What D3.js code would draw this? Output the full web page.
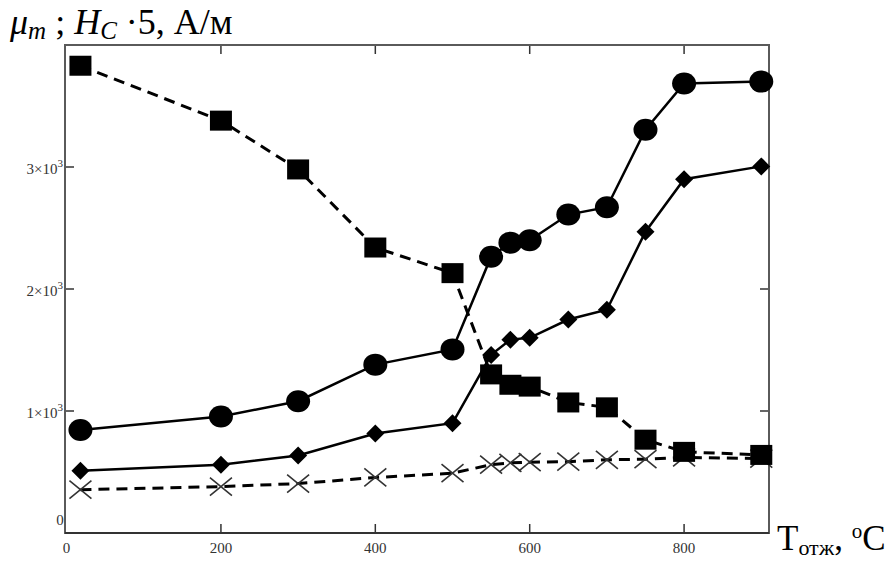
<!DOCTYPE html>
<html>
<head>
<meta charset="utf-8">
<script src="https://cdn.jsdelivr.net/npm/d3@7"></script>
<style>
  body { margin: 0; background: #fff; }
  svg { font-family: "Liberation Serif", "DejaVu Serif", serif; }
</style>
</head>
<body>
<svg id="chart" width="892" height="563"></svg>
<script>
// annealing temperature, C
var temps = [18, 200, 300, 400, 500, 550, 575, 600, 650, 700, 750, 800, 900]

var squares = [3830, 3380, 2980, 2340, 2130, 1300, 1215, 1200, 1070, 1030, 765, 665, 640]
var circles = [845, 955, 1080, 1380, 1505, 2265, 2380, 2400, 2610, 2670, 3305, 3685, 3700]
var diamonds = [510, 560, 635, 815, 900, 1460, 1585, 1600, 1750, 1830, 2470, 2900, 3005]
var crosses = [355, 380, 405, 455, 490, 560, 575, 580, 585, 600, 605, 620, 610]

var xTicks = [0, 200, 400, 600, 800]
var yTicks = [1000, 2000, 3000]

var svg = d3.select("#chart")
var pLeft = 65, pRight = 769, pTop = 45, pBottom = 533

var x = d3.scaleLinear().domain([-2, 910]).range([pLeft, pRight])
var y = d3.scaleLinear().domain([0, 4000]).range([pBottom, pTop])

var frameColor = "#5a5a5a"

// ticks inside on every side
var ticks = svg.append("g").attr("stroke", "#333").attr("stroke-width", 1.5)
xTicks.slice(1).forEach(function (t) {
  ticks.append("line").attr("x1", x(t)).attr("x2", x(t)).attr("y1", pBottom).attr("y2", pBottom - 9)
  ticks.append("line").attr("x1", x(t)).attr("x2", x(t)).attr("y1", pTop).attr("y2", pTop + 9)
})
yTicks.forEach(function (t) {
  ticks.append("line").attr("x1", pLeft).attr("x2", pLeft + 9).attr("y1", y(t)).attr("y2", y(t))
  ticks.append("line").attr("x1", pRight).attr("x2", pRight - 9).attr("y1", y(t)).attr("y2", y(t))
})

svg.append("rect")
  .attr("x", pLeft).attr("y", pTop)
  .attr("width", pRight - pLeft).attr("height", pBottom - pTop)
  .attr("fill", "none")
  .attr("stroke", frameColor)
  .attr("stroke-width", 2)

svg.append("line")
  .attr("x1", pLeft).attr("x2", pRight)
  .attr("y1", pBottom).attr("y2", pBottom)
  .attr("stroke", "#333").attr("stroke-width", 2)

// tick labels
svg.selectAll(".xlab")
  .data(xTicks)
  .enter()
  .append("text")
  .attr("class", "xlab")
  .attr("x", function (d) { return x(d) })
  .attr("y", 553)
  .attr("text-anchor", "middle")
  .attr("font-size", 15)
  .attr("fill", "#333")
  .text(function (d) { return d })

var ylab = svg.selectAll(".ylab")
  .data(yTicks)
  .enter()
  .append("text")
  .attr("class", "ylab")
  .attr("x", pLeft - 2)
  .attr("y", function (d) { return y(d) + 7 })
  .attr("text-anchor", "end")
  .attr("font-size", 15)
  .attr("fill", "#333")
ylab.append("tspan").text(function (d) { return (d / 1000) + "\u00d710" })
ylab.append("tspan").attr("font-size", 11).attr("dy", -7).text("3")

svg.append("text")
  .attr("x", 60).attr("y", 525)
  .attr("text-anchor", "middle")
  .attr("font-size", 15)
  .attr("fill", "#333")
  .text("0")

// lines
function line(vals) {
  return d3.line()
    .x(function (d, i) { return x(temps[i]) })
    .y(function (d) { return y(d) })(vals)
}

var plot = svg.append("g")

plot.append("path").attr("d", line(crosses))
  .attr("fill", "none").attr("stroke", "#000").attr("stroke-width", 3)
  .attr("stroke-dasharray", "11,7")
plot.append("path").attr("d", line(diamonds))
  .attr("fill", "none").attr("stroke", "#000").attr("stroke-width", 2.5)
plot.append("path").attr("d", line(circles))
  .attr("fill", "none").attr("stroke", "#000").attr("stroke-width", 2.5)
plot.append("path").attr("d", line(squares))
  .attr("fill", "none").attr("stroke", "#000").attr("stroke-width", 3)
  .attr("stroke-dasharray", "11,7")

// markers
plot.selectAll(".cross")
  .data(crosses)
  .enter()
  .append("path")
  .attr("class", "cross")
  .attr("transform", function (d, i) { return "translate(" + x(temps[i]) + "," + y(d) + ")" })
  .attr("d", "M-11,-9L11,9M-11,9L11,-9")
  .attr("stroke", "#333")
  .attr("stroke-width", 1.6)
  .attr("fill", "none")

plot.selectAll(".diamond")
  .data(diamonds)
  .enter()
  .append("path")
  .attr("class", "diamond")
  .attr("transform", function (d, i) { return "translate(" + x(temps[i]) + "," + y(d) + ")" })
  .attr("d", "M0,-9L9,0L0,9L-9,0Z")
  .attr("fill", "#000")

plot.selectAll(".circle")
  .data(circles)
  .enter()
  .append("ellipse")
  .attr("class", "circle")
  .attr("cx", function (d, i) { return x(temps[i]) })
  .attr("cy", function (d) { return y(d) })
  .attr("rx", 12).attr("ry", 11)
  .attr("fill", "#000")

plot.selectAll(".square")
  .data(squares)
  .enter()
  .append("rect")
  .attr("class", "square")
  .attr("x", function (d, i) { return x(temps[i]) - 11 })
  .attr("y", function (d) { return y(d) - 10 })
  .attr("width", 22).attr("height", 20)
  .attr("fill", "#000")

// axis titles
var yt = svg.append("text").attr("x", 10).attr("y", 34).attr("font-size", 36).attr("fill", "#000")
yt.append("tspan").attr("font-style", "italic").text("\u03bc")
yt.append("tspan").attr("font-style", "italic").attr("font-size", 25).attr("dy", 5).text("m")
yt.append("tspan").attr("dy", -5).text(" ; ")
yt.append("tspan").attr("font-style", "italic").text("H")
yt.append("tspan").attr("font-style", "italic").attr("font-size", 25).attr("dy", 5).text("C")
yt.append("tspan").attr("dy", -5).text(" \u00b75, \u0410/\u043c")

var xt = svg.append("text").attr("x", 777).attr("y", 550).attr("font-size", 35).attr("fill", "#000")
xt.append("tspan").text("T")
xt.append("tspan").attr("font-size", 22).attr("dy", 5).text("\u043e\u0442\u0436")
xt.append("tspan").attr("dy", -5).text(", ")
xt.append("tspan").attr("font-size", 21).attr("dy", -12).text("o")
xt.append("tspan").attr("dy", 12).text("C")
</script>
</body>
</html>
